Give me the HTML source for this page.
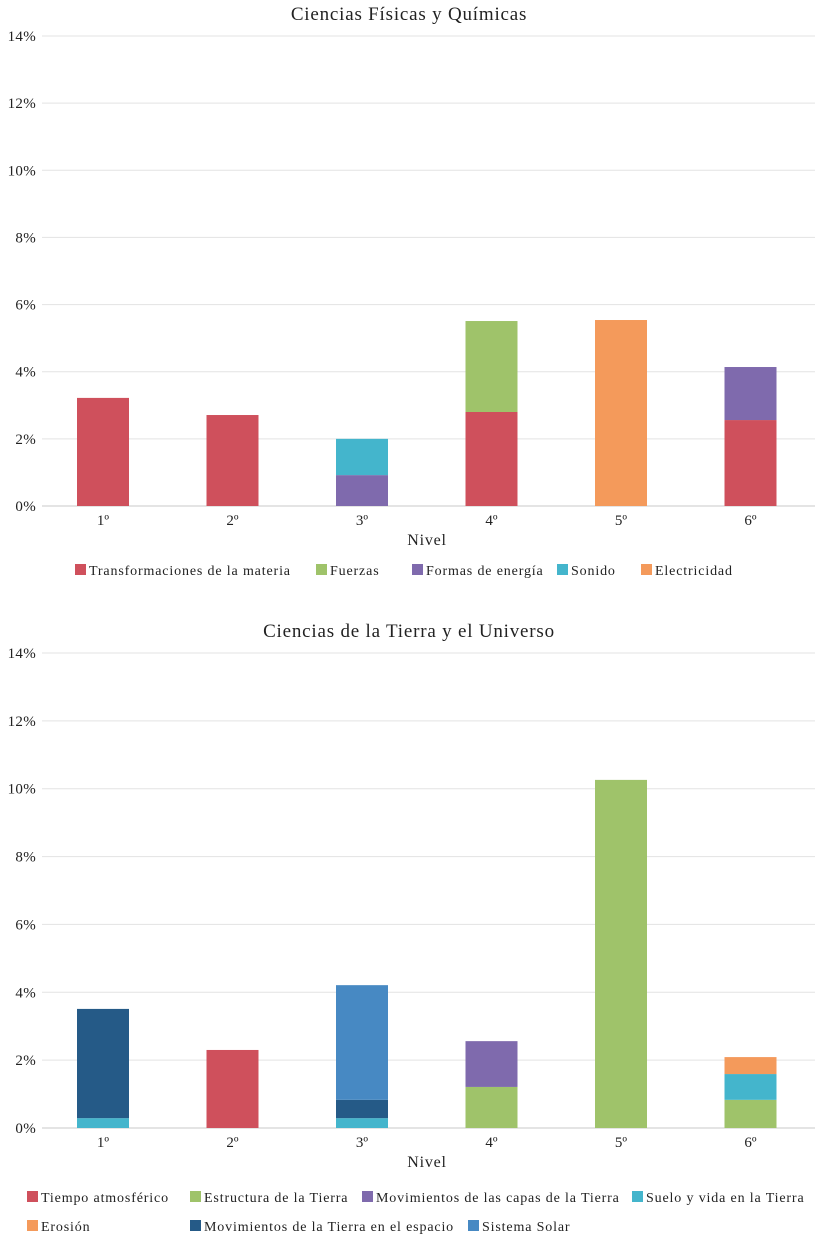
<!DOCTYPE html>
<html><head><meta charset="utf-8"><style>
body{margin:0;background:#fff;}
svg{display:block;font-family:"Liberation Serif",serif;}
</style></head><body>
<svg id="c" width="822" height="1239" viewBox="0 0 822 1239"></svg>
<script>
const levels=["1º","2º","3º","4º","5º","6º"];
const yTicks=[0,2,4,6,8,10,12,14];
// Chart 1 series
const s1Names=["Transformaciones de la materia","Fuerzas","Formas de energía","Sonido","Electricidad"];
const s1Colors=["#cf505c","#9fc36a","#7f6aad","#44b5cc","#f49a5b"];
const s1Transf=[3.22,2.71,0,2.80,0,2.56];
const s1Fuerzas=[0,0,0,2.71,0,0];
const s1Formas=[0,0,0.92,0,0,1.58];
const s1Sonido=[0,0,1.08,0,0,0];
const s1Elec=[0,0,0,0,5.54,0];
// Chart 2 series
const s2Names=["Tiempo atmosférico","Estructura de la Tierra","Movimientos de las capas de la Tierra","Suelo y vida en la Tierra","Erosión","Movimientos de la Tierra en el espacio","Sistema Solar"];
const s2Colors=["#cf505c","#9fc36a","#7f6aad","#44b5cc","#f49a5b","#255a87","#4789c3"];
const s2Tiempo=[0,2.30,0,0,0,0];
const s2Estructura=[0,0,0,1.21,10.26,0.83];
const s2Capas=[0,0,0,1.35,0,0];
const s2Suelo=[0.29,0,0.29,0,0,0.76];
const s2Erosion=[0,0,0,0,0,0.50];
const s2Espacio=[3.22,0,0.54,0,0,0];
const s2Solar=[0,0,3.38,0,0,0];

const NS="http://www.w3.org/2000/svg";
const svg=document.getElementById('c');
function mk(t,a,txt){const e=document.createElementNS(NS,t);for(const k in a)e.setAttribute(k,a[k]);if(txt!=null)e.textContent=txt;svg.appendChild(e);return e;}

function chart(cfg){
  const x0=42,x1=815,step=129.5,cx0=103,bw=52;
  const y=v=>cfg.yBase-v*(cfg.yBase-cfg.yTop)/14;
  const xc=i=>cx0+i*step;
  let t=mk('text',{x:409,y:cfg.yTop-16,'text-anchor':'middle','font-size':19,'letter-spacing':0.8,fill:'#222'},cfg.title);
  
  
  yTicks.forEach(v=>{
    let l=mk('line',{x1:x0,x2:x1,y1:y(v),y2:y(v),stroke:v===0?'#c8c8c8':'#e3e3e3','stroke-width':1});
    
    
    let tx=mk('text',{x:36,y:y(v)+5,'text-anchor':'end','font-size':15,'letter-spacing':0.3,fill:'#222'},v+'%');
    
    
  });
  levels.forEach((lv,i)=>{
    let base=0;
    cfg.series.forEach((s,k)=>{
      const v=s[i];
      if(v>0){
        let r=mk('rect',{x:xc(i)-bw/2,y:y(base+v),width:bw,height:y(base)-y(base+v),fill:cfg.colors[k]});
        
        
        base+=v;
      }
    });
    let tx=mk('text',{x:xc(i),y:cfg.yBase+19,'text-anchor':'middle','font-size':15,fill:'#222'},lv);
    
    
  });
  let xt=mk('text',{x:427,y:cfg.yBase+39,'text-anchor':'middle','font-size':16,'letter-spacing':0.8,fill:'#222'},'Nivel');
  
  
  cfg.legend.forEach((p,k)=>{
    let r=mk('rect',{x:p[0],y:p[1]-11,width:11,height:11,fill:cfg.colors[k]});
    
    
    let tx=mk('text',{x:p[0]+14,y:p[1],'font-size':14,'letter-spacing':0.85,fill:'#222'},cfg.names[k]);
    
    
  });
}
chart({key:'fisicas',title:'Ciencias Físicas y Químicas',yTop:36,yBase:506,
  series:[s1Transf,s1Fuerzas,s1Formas,s1Sonido,s1Elec],colors:s1Colors,names:s1Names,
  legend:[[75,575],[316,575],[412,575],[557,575],[641,575]]});
chart({key:'tierra',title:'Ciencias de la Tierra y el Universo',yTop:653,yBase:1128,
  series:[s2Tiempo,s2Estructura,s2Capas,s2Suelo,s2Erosion,s2Espacio,s2Solar],colors:s2Colors,names:s2Names,
  legend:[[27,1202],[190,1202],[362,1202],[632,1202],[27,1231],[190,1231],[468,1231]]});
</script>
</body></html>
